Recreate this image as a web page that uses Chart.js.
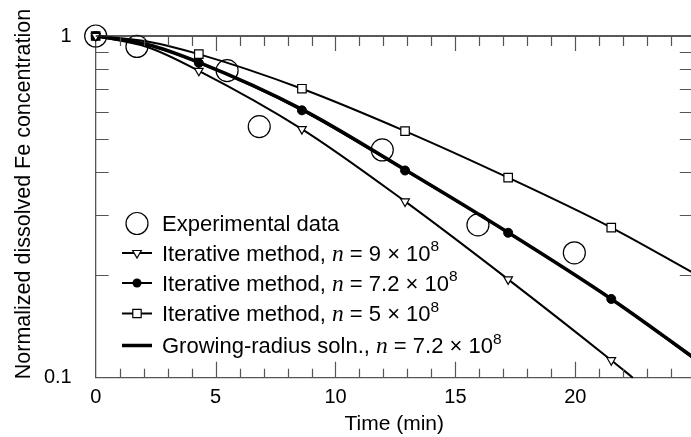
<!DOCTYPE html>
<html>
<head>
<meta charset="utf-8">
<script src="https://cdn.jsdelivr.net/npm/chart.js@4.4.0/dist/chart.umd.min.js"></script>
<style>
html, body { margin: 0; padding: 0; background: #fff; overflow: hidden; }
#wrap { width: 705px; height: 437px; }
</style>
</head>
<body>
<div id="wrap"><canvas id="chart" width="705" height="437"></canvas></div>
<script>
// values (time in min, normalized concentration)
const expTime = [0, 1.72, 5.48, 6.82, 11.95, 15.94, 19.96];
const expConc = [1, 0.932, 0.792, 0.543, 0.464, 0.280, 0.232];

const n9Time = [0, 2.15, 4.3, 8.6, 12.9, 17.2, 21.5, 22.4];
const n9Conc = [1, 0.929, 0.791, 0.534, 0.328, 0.194, 0.1125, 0.1];

const n72Time = [0, 2.15, 4.3, 8.6, 12.9, 17.2, 21.5, 24.9];
const n72Conc = [1, 0.942, 0.834, 0.606, 0.404, 0.2655, 0.170, 0.114];

const n5Time = [0, 2.15, 4.3, 8.6, 12.9, 17.2, 21.5, 24.9];
const n5Conc = [1, 0.964, 0.885, 0.701, 0.527, 0.385, 0.275, 0.203];

const growTime = [0, 2.15, 4.3, 8.6, 12.9, 17.2, 21.5, 24.9];
const growConc = [1, 0.944, 0.837, 0.610, 0.406, 0.266, 0.170, 0.115];

// which points of the iterative curves carry a marker
const markerShown = [true, false, true, true, true, true, true, false];

const xTickLabels = [0, 5, 10, 15, 20];
const yTickLabels = [0.1, 1];
const yMinorTicks = [0.2, 0.3, 0.4, 0.5, 0.6, 0.7, 0.8, 0.9];

const legendRows = [
  { sym: "circle", parts: [["Experimental data"]] },
  { sym: "triangle", parts: [["Iterative method, "], ["n", "i"], [" = 9 \u00d7 10"], ["8", "s"]] },
  { sym: "dot", parts: [["Iterative method, "], ["n", "i"], [" = 7.2 \u00d7 10"], ["8", "s"]] },
  { sym: "square", parts: [["Iterative method, "], ["n", "i"], [" = 5 \u00d7 10"], ["8", "s"]] },
  { sym: "thick", parts: [["Growing-radius soln., "], ["n", "i"], [" = 7.2 \u00d7 10"], ["8", "s"]] }
];

const FONT = "Liberation Sans, Arial, sans-serif";

function pts(xs, ys) {
  return xs.map((x, i) => ({ x: x, y: ys[i] }));
}

const tickPlugin = {
  id: "ticks",
  afterDraw(chart) {
    const ctx = chart.ctx;
    const a = chart.chartArea;
    const xs = chart.scales.x, ys = chart.scales.y;
    ctx.save();
    // top frame line
    ctx.strokeStyle = "#222";
    ctx.lineWidth = 1.3;
    ctx.beginPath();
    ctx.moveTo(a.left, a.top);
    ctx.lineTo(a.right, a.top);
    ctx.stroke();

    ctx.strokeStyle = "#555";
    ctx.lineWidth = 1.2;
    ctx.beginPath();
    for (let v = 1; v < 25; v++) {
      const px = Math.round(xs.getPixelForValue(v)) + 0.5;
      const major = v % 5 === 0;
      ctx.moveTo(px, a.bottom);
      ctx.lineTo(px, a.bottom - (major ? 16 : 9));
      ctx.moveTo(px, a.top);
      ctx.lineTo(px, a.top + (major ? 15 : 10));
    }
    yMinorTicks.forEach(v => {
      const py = Math.round(ys.getPixelForValue(v)) + 0.5;
      ctx.moveTo(a.left, py);
      ctx.lineTo(a.left + 13, py);
      ctx.moveTo(a.right, py);
      ctx.lineTo(a.right - 13, py);
    });
    ctx.stroke();

    // y axis title
    ctx.fillStyle = "#000";
    ctx.font = "21.5px " + FONT;
    ctx.textAlign = "center";
    ctx.textBaseline = "middle";
    ctx.translate(24, 194);
    ctx.rotate(-Math.PI / 2);
    ctx.fillText("Normalized dissolved Fe concentration", 0, 0);
    ctx.restore();
  }
};

const legendPlugin = {
  id: "richLegend",
  afterDraw(chart) {
    const ctx = chart.ctx;
    const rowY = [223.5, 253, 283, 313.5, 345.5];
    const symX = 137, textX = 162;
    ctx.save();
    ctx.strokeStyle = "#000";
    ctx.fillStyle = "#000";
    legendRows.forEach((row, i) => {
      const y = rowY[i];
      ctx.lineWidth = row.sym === "thick" ? 3.5 : 2;
      if (row.sym !== "circle") {
        ctx.beginPath();
        ctx.moveTo(symX - 15, y);
        ctx.lineTo(symX + 15, y);
        ctx.stroke();
      }
      ctx.lineWidth = 1.2;
      ctx.beginPath();
      if (row.sym === "circle") {
        ctx.arc(symX, y, 11, 0, Math.PI * 2);
        ctx.stroke();
      } else if (row.sym === "triangle") {
        const r = 5;
        ctx.moveTo(symX - r * 0.866, y - r * 0.5);
        ctx.lineTo(symX + r * 0.866, y - r * 0.5);
        ctx.lineTo(symX, y + r);
        ctx.closePath();
        ctx.fillStyle = "#fff";
        ctx.fill();
        ctx.stroke();
      } else if (row.sym === "dot") {
        ctx.fillStyle = "#000";
        ctx.arc(symX, y, 4.5, 0, Math.PI * 2);
        ctx.fill();
      } else if (row.sym === "square") {
        ctx.rect(symX - 4.2, y - 4.2, 8.4, 8.4);
        ctx.fillStyle = "#fff";
        ctx.fill();
        ctx.stroke();
      }
      // text
      ctx.fillStyle = "#000";
      ctx.textAlign = "left";
      ctx.textBaseline = "alphabetic";
      let x = textX;
      const base = y + 7.8;
      row.parts.forEach(p => {
        let dy = 0;
        if (p[1] === "i") ctx.font = "italic 23.5px Liberation Serif, serif";
        else if (p[1] === "s") { ctx.font = "15.5px " + FONT; dy = -9.5; }
        else ctx.font = "22px " + FONT;
        ctx.fillText(p[0], x, base + dy);
        x += ctx.measureText(p[0]).width;
      });
    });
    ctx.restore();
  }
};

const ctx = document.getElementById("chart").getContext("2d");

const graph = new Chart(ctx, {
  type: "line",
  data: {
    datasets: [
      {
        label: "Experimental data",
        data: pts(expTime, expConc),
        showLine: false,
        pointStyle: "circle",
        pointRadius: 11,
        pointBorderWidth: 1.2,
        pointBorderColor: "#000",
        pointBackgroundColor: "rgba(0,0,0,0)",
        clip: false
      },
      {
        label: "Iterative method, n = 9 x 10^8",
        data: pts(n9Time, n9Conc),
        borderColor: "#000",
        borderWidth: 2,
        cubicInterpolationMode: "monotone",
        pointStyle: "triangle",
        pointRotation: 180,
        pointRadius: markerShown.map(m => m ? 5 : 0),
        pointBorderWidth: 1.2,
        pointBorderColor: "#000",
        pointBackgroundColor: "#fff",
        clip: false
      },
      {
        label: "Iterative method, n = 7.2 x 10^8",
        data: pts(n72Time, n72Conc),
        borderColor: "#000",
        borderWidth: 2,
        cubicInterpolationMode: "monotone",
        pointStyle: "circle",
        pointRadius: markerShown.map(m => m ? 4.5 : 0),
        pointBorderWidth: 1,
        pointBorderColor: "#000",
        pointBackgroundColor: "#000",
        clip: false
      },
      {
        label: "Iterative method, n = 5 x 10^8",
        data: pts(n5Time, n5Conc),
        borderColor: "#000",
        borderWidth: 2,
        cubicInterpolationMode: "monotone",
        pointStyle: "rect",
        pointRadius: markerShown.map(m => m ? 6 : 0),
        pointBorderWidth: 1.2,
        pointBorderColor: "#000",
        pointBackgroundColor: markerShown.map((m, i) => i === 0 ? "#000" : "#fff"),
        clip: false
      },
      {
        label: "Growing-radius soln., n = 7.2 x 10^8",
        data: pts(growTime, growConc),
        borderColor: "#000",
        borderWidth: 3.5,
        cubicInterpolationMode: "monotone",
        pointRadius: 0,
        clip: false
      }
    ]
  },
  options: {
    responsive: false,
    animation: false,
    layout: { padding: { top: 31.7, right: 6, left: 0, bottom: 0 } },
    plugins: { legend: { display: false }, tooltip: { enabled: false } },
    scales: {
      x: {
        type: "linear",
        min: 0,
        max: 24.9,
        grid: { display: false, drawTicks: false },
        border: { display: true, color: "#555", width: 1.3 },
        ticks: {
          color: "#000",
          font: { family: FONT, size: 20 },
          padding: 8,
          maxRotation: 0,
          autoSkip: false
        },
        afterBuildTicks: s => { s.ticks = xTickLabels.map(v => ({ value: v })); },
        afterFit: s => { s.height = 59.3; },
        title: {
          display: true,
          text: "Time (min)",
          color: "#000",
          font: { family: FONT, size: 21 },
          padding: { top: 0, bottom: 0 }
        }
      },
      y: {
        type: "logarithmic",
        min: 0.1,
        max: 1,
        grid: { display: false, drawTicks: false },
        border: { display: true, color: "#555", width: 1.3 },
        ticks: {
          color: "#000",
          font: { family: FONT, size: 20 },
          padding: 24,
          callback: v => String(v)
        },
        afterBuildTicks: s => { s.ticks = yTickLabels.map(v => ({ value: v })); },
        afterFit: s => { s.width = 95.7; }
      }
    }
  },
  plugins: [tickPlugin, legendPlugin]
});
</script>
</body>
</html>
